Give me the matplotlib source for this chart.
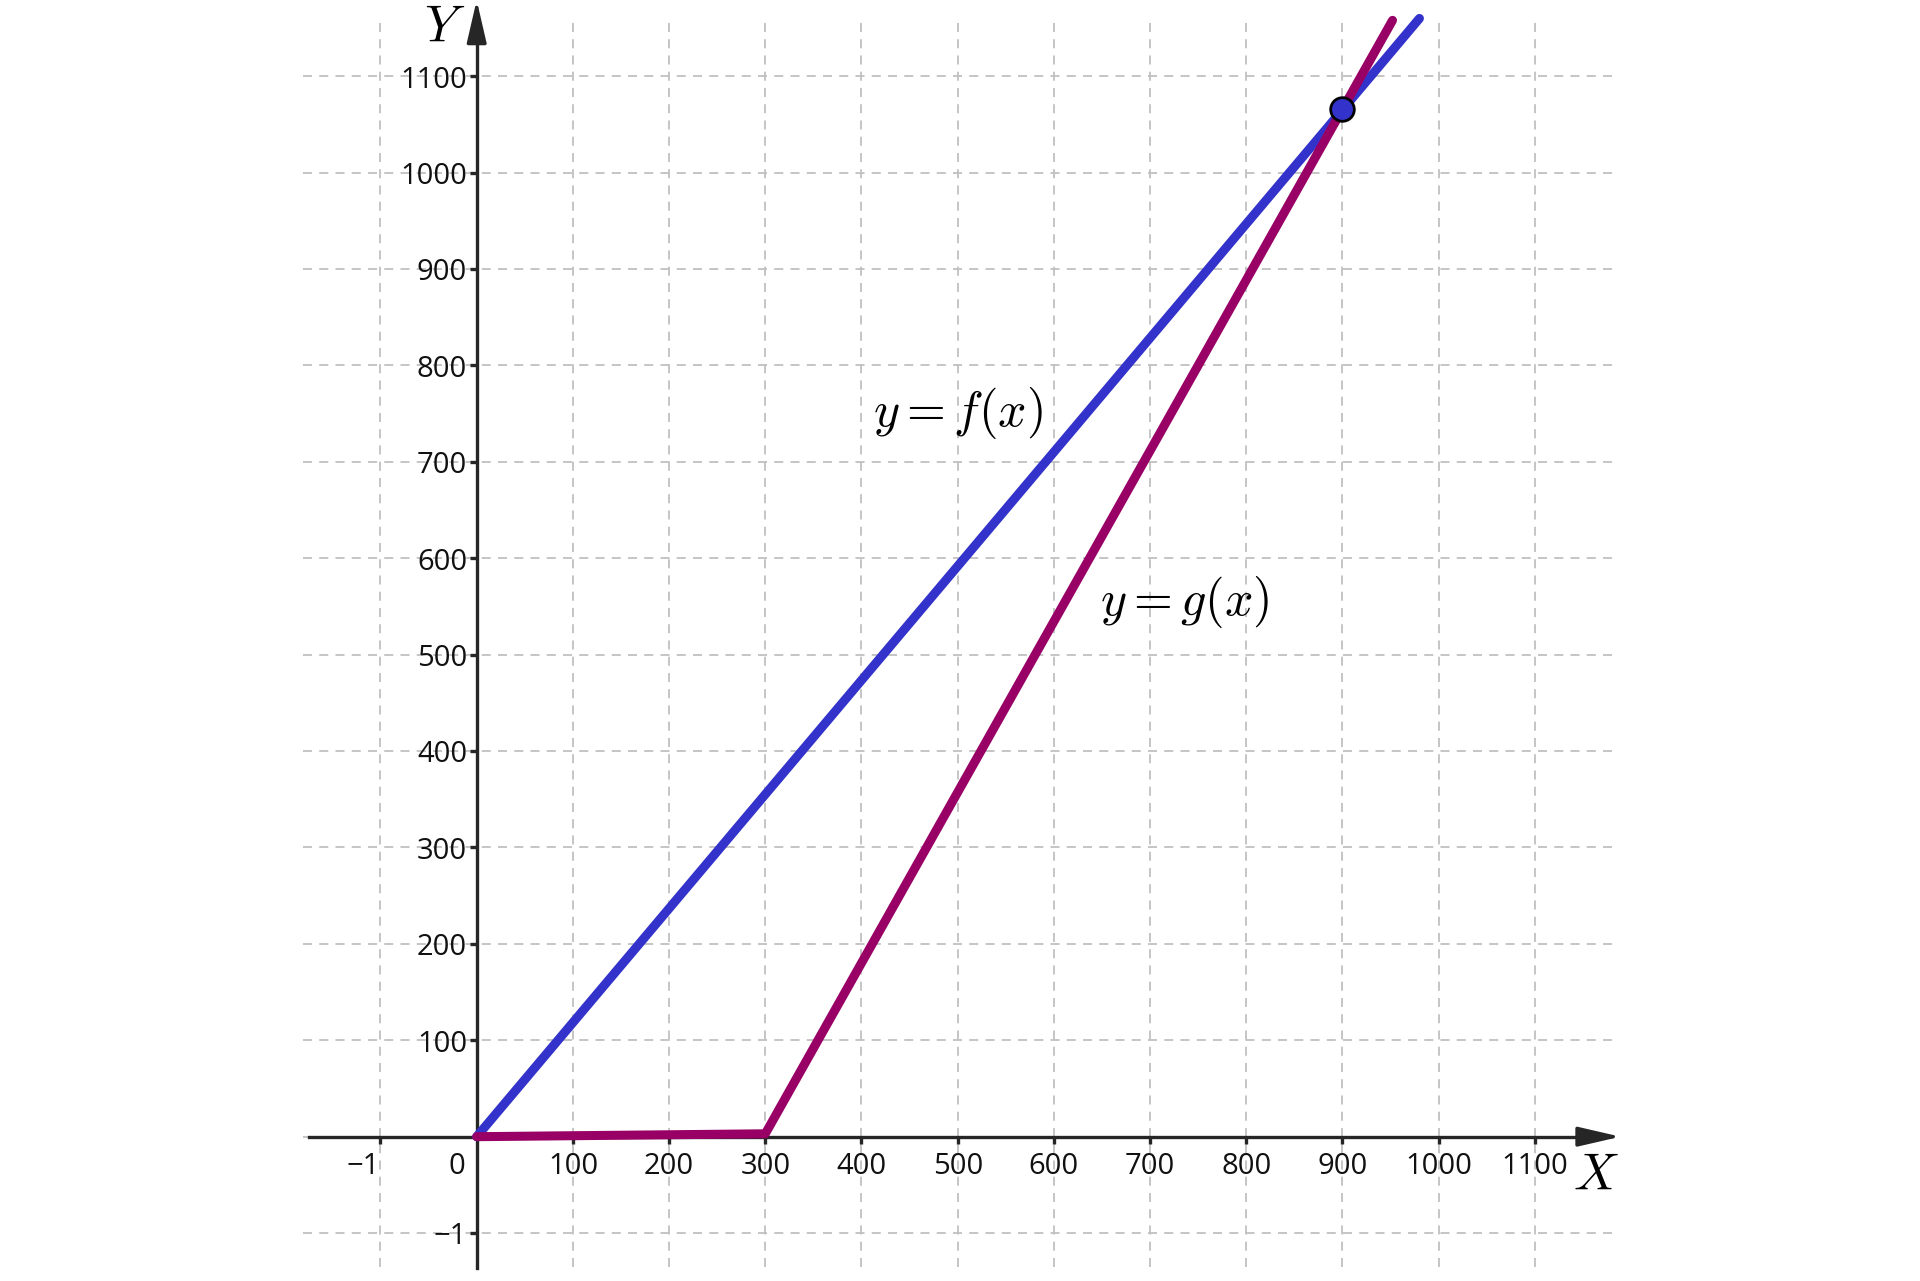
import matplotlib
matplotlib.use("Agg")
import matplotlib.pyplot as plt

plt.rcParams['mathtext.fontset'] = 'cm'

# ---- data ----
f_x = [0, 980]
f_y = [0, 1160]
g_x = [0, 300, 952]
g_y = [0, 3, 1158]
intersect_x = [900]
intersect_y = [1066]

x_ticks = [-100, 100, 200, 300, 400, 500, 600, 700, 800, 900, 1000, 1100]
x_tick_labels = ['\u22121', '100', '200', '300', '400', '500', '600', '700', '800', '900', '1000', '1100']
y_ticks = [-100, 100, 200, 300, 400, 500, 600, 700, 800, 900, 1000, 1100]
y_tick_labels = ['\u22121', '100', '200', '300', '400', '500', '600', '700', '800', '900', '1000', '1100']
grid_vals = [-100, 0, 100, 200, 300, 400, 500, 600, 700, 800, 900, 1000, 1100]

BLUE = '#3333cc'
MAGENTA = '#990066'
AXIS = '#262626'
GRID = '#c0c0c0'

fig = plt.figure(figsize=(19.2, 12.81), dpi=100)
ax = fig.add_axes([0, 0, 1, 1])
ax.set_xlim(-495.5, 1500.3)
ax.set_ylim(-149.7, 1179.1)

# grid
ax.hlines(grid_vals, -181, 1186, colors=GRID, linestyles=(0, (5, 4)), linewidth=1.3, zorder=1)
ax.vlines(grid_vals, -135, 1158, colors=GRID, linestyles=(0, (5, 4)), linewidth=1.3, zorder=1)

# axes via spines
for s in ['top', 'right']:
    ax.spines[s].set_visible(False)
ax.spines['left'].set_position(('data', 0))
ax.spines['bottom'].set_position(('data', 0))
ax.spines['left'].set_bounds(-136, 1150)
ax.spines['bottom'].set_bounds(-174, 1160)
for s in ['left', 'bottom']:
    ax.spines[s].set_color(AXIS)
    ax.spines[s].set_linewidth(2.4)
    ax.spines[s].set_zorder(2)
ax.set_xticks(x_ticks)
ax.set_yticks(y_ticks)
ax.tick_params(direction='out', length=5, width=2.4, color=AXIS, labelbottom=False, labelleft=False)

# arrow heads
ax.annotate('', xy=(0, 1179), xytext=(0, 1140), annotation_clip=False,
            arrowprops=dict(arrowstyle='-|>,head_length=2.6,head_width=0.6', mutation_scale=10,
                            color=AXIS, lw=2.4, shrinkA=0, shrinkB=0), zorder=2)
ax.annotate('', xy=(1189, 0), xytext=(1150, 0), annotation_clip=False,
            arrowprops=dict(arrowstyle='-|>,head_length=2.6,head_width=0.6', mutation_scale=10,
                            color=AXIS, lw=2.4, shrinkA=0, shrinkB=0), zorder=2)

# tick labels
tfont = dict(family='Open Sans', fontsize=21, color='#111111')
for xv, lab in zip(x_ticks, x_tick_labels):
    xx = xv - 18 if xv < 0 else xv
    ax.text(xx, -31, lab, ha='center', va='center', **tfont)
for yv, lab in zip(y_ticks, y_tick_labels):
    ax.text(-10, yv - 4, lab, ha='right', va='center', **tfont)
ax.text(-21, -31, '0', ha='center', va='center', **tfont)

# axis names
ax.text(-33, 1150, '$Y$', ha='center', va='center', fontsize=37)
ax.text(1163, -40, '$X$', ha='center', va='center', fontsize=37)

# curves
ax.plot(f_x, f_y, color=BLUE, lw=6.5, solid_capstyle='round', zorder=3)
ax.plot(g_x, g_y, color=MAGENTA, lw=6.5, solid_capstyle='round', solid_joinstyle='round', zorder=3)
ax.plot(intersect_x, intersect_y, 'o', ms=17, mfc=BLUE, mec='black', mew=2, zorder=4)

# function labels
ax.text(412, 751, '$y = f(x)$', ha='left', va='center', fontsize=36)
ax.text(648, 555, '$y = g(x)$', ha='left', va='center', fontsize=36)

fig.savefig('out.png', dpi=100)
